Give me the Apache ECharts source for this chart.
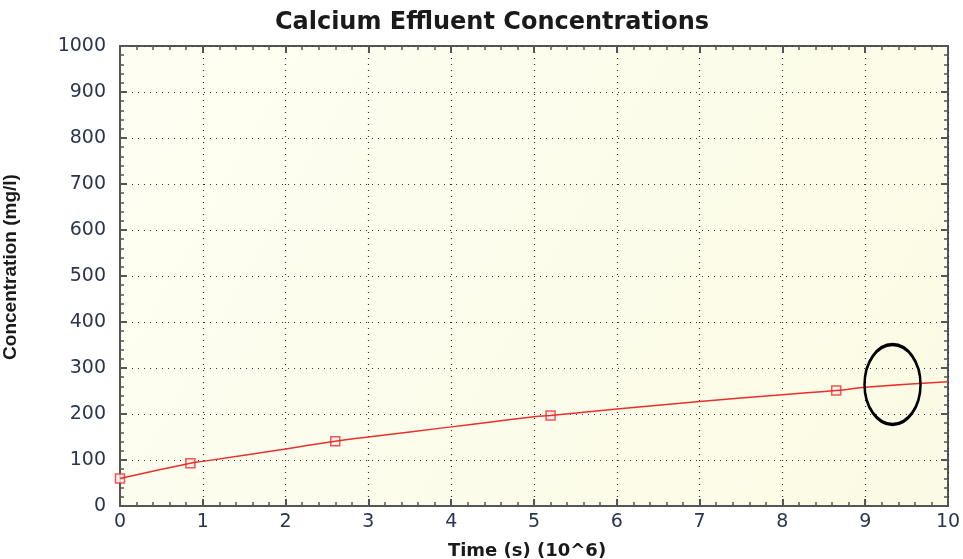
<!DOCTYPE html>
<html lang="en">
<head>
    <meta charset="UTF-8">
    <script type="text/javascript" src="https://cdn.jsdelivr.net/npm/echarts@6/dist/echarts.min.js"></script>
    <title>Calcium Effluent Concentrations</title>
    <style type="text/css">
        html, body { margin: 0; padding: 0; background: #fff; }
        #chart { width: 963px; height: 559px; }
    </style>
</head>
<body>
<div id="chart"></div>
<script type="text/javascript">
    // curve (time in 10^6 s, concentration in mg/l)
    const curveTime = [0, 0.85, 1, 2, 2.6, 3, 4, 5, 5.2, 6, 7, 8, 8.65, 9, 10];
    const curveConc = [60, 93, 97, 124, 141, 150, 172, 194, 197, 211, 227, 242, 251, 258, 270];
    // square markers
    const markTime = [0, 0.85, 2.6, 5.2, 8.65];
    const markConc = [60, 93, 141, 197, 251];
    // circled spot
    const circleAt = [9.33, 264];

    let chart = echarts.init(document.getElementById('chart'));

    const font = 'Liberation Sans, Arial, sans-serif';
    const wide = 'DejaVu Sans, Verdana, sans-serif';
    const dotted = { show: true, lineStyle: { color: '#333', type: [1, 5], width: 1.2 } };

    // axis that only draws short inward ticks, used on all four sides
    function tickAxis(max, interval, pos) {
        return {
            type: 'value', min: 0, max: max, interval: interval, position: pos,
            axisLine: { show: false, onZero: false },
            axisTick: { show: true, inside: true, length: 7, lineStyle: { color: '#555', width: 2 } },
            minorTick: { show: true, splitNumber: 5, length: 4, lineStyle: { color: '#555', width: 1.5 } },
            axisLabel: { show: false },
            splitLine: { show: false }
        };
    }

    let option = {
        backgroundColor: '#fff',
        animation: false,
        title: {
            text: 'Calcium Effluent Concentrations',
            left: 487, top: 6, textAlign: 'center',
            textStyle: { fontFamily: wide, fontSize: 24, fontWeight: 'bold', color: '#1a1a1a' }
        },
        grid: {
            left: 120, right: 15, top: 46, bottom: 53,
            outerBoundsMode: 'none',
            show: true,
            borderColor: '#555', borderWidth: 2,
            backgroundColor: new echarts.graphic.LinearGradient(0, 0, 1, 1, [
                { offset: 0, color: '#fefef3' },
                { offset: 1, color: '#fbfbe4' }
            ])
        },
        xAxis: [{
            type: 'value', min: 0, max: 10, interval: 1,
            name: 'Time (s) (10^6)', nameLocation: 'middle', nameGap: 36,
            nameTextStyle: { fontFamily: wide, fontSize: 18, fontWeight: 'bold', color: '#1a1a1a', padding: [0, 14, 0, 0] },
            axisLine: { show: true, lineStyle: { color: '#555', width: 2 } },
            axisTick: { show: false },
            axisLabel: { fontFamily: wide, fontSize: 19, color: '#2b3550', margin: 7 },
            splitLine: dotted
        },
            tickAxis(10, 1, 'top'),
            tickAxis(10, 1, 'bottom')
        ],
        yAxis: [{
            type: 'value', min: 0, max: 1000, interval: 100,
            name: 'Concentration (mg/l)', nameLocation: 'middle', nameGap: 100, nameRotate: 90,
            nameTextStyle: { fontFamily: font, fontSize: 19, fontWeight: 'bold', color: '#1a1a1a', padding: [0, 0, 0, 18] },
            axisLine: { show: true, lineStyle: { color: '#555', width: 2 } },
            axisTick: { show: false },
            axisLabel: { fontFamily: wide, fontSize: 19, color: '#2b3550', margin: 14, formatter: v => String(v) },
            splitLine: dotted
        },
            tickAxis(1000, 100, 'right'),
            tickAxis(1000, 100, 'left')
        ],
        series: [
            {
                type: 'line',
                smooth: true,
                symbol: 'none',
                lineStyle: { color: '#e8302c', width: 1.5 },
                data: curveTime.map((t, i) => [t, curveConc[i]]),
                markPoint: {
                    symbol: 'circle',
                    symbolSize: [56, 80],
                    label: { show: false },
                    itemStyle: { color: 'rgba(0,0,0,0)', borderColor: '#000', borderWidth: 3 },
                    data: [{ coord: circleAt }]
                }
            },
            {
                type: 'scatter',
                symbol: 'rect',
                symbolSize: 9,
                clip: true,
                itemStyle: { color: '#fdeeee', borderColor: '#e8302c', borderWidth: 1.5 },
                data: markTime.map((t, i) => [t, markConc[i]])
            }
        ]
    };
    chart.setOption(option);
</script>
</body>
</html>
